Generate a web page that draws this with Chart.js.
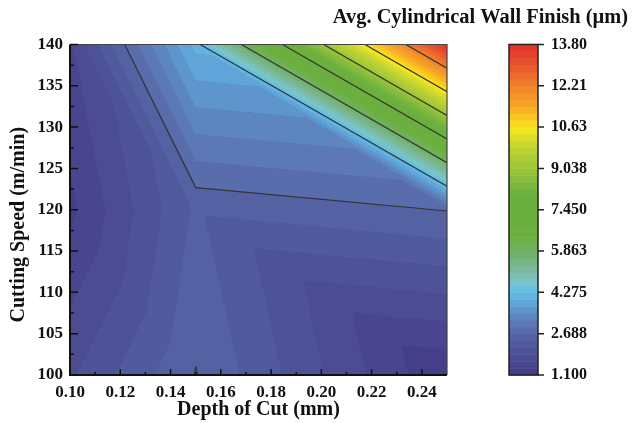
<!DOCTYPE html>
<html>
<head>
<meta charset="utf-8">
<script src="https://cdn.jsdelivr.net/npm/chart.js@4.4.1/dist/chart.umd.min.js"></script>
<style>
  html, body { margin: 0; padding: 0; background: #fff; width: 633px; height: 423px; overflow: hidden; }
  #wrap { position: absolute; left: 0; top: 0; width: 633px; height: 423px; }
</style>
</head>
<body>
<div id="wrap"><canvas id="chart"></canvas></div>
<script>
// measured nodes: depth of cut (mm) x cutting speed (m/min)
const depthLevels = [0.10, 0.15, 0.25];
const speedLevels = [100, 120, 140];
const finishAt100 = [1.85, 2.70, 1.12];
const finishAt120 = [1.30, 2.47, 2.70];
const finishAt140 = [1.60, 4.10, 13.80];

const contourLevels = [2.688, 4.275, 5.863, 7.450, 9.038, 10.63, 12.21];
const xTicks = [0.10, 0.12, 0.14, 0.16, 0.18, 0.20, 0.22, 0.24];
const yTicks = [100, 105, 110, 115, 120, 125, 130, 135, 140];
const barTicks = [1.1, 2.6875, 4.275, 5.8625, 7.45, 9.0375, 10.625, 12.2125, 13.8];
const barTickLabels = ["1.100", "2.688", "4.275", "5.863", "7.450", "9.038", "10.63", "12.21", "13.80"];

const grid = [finishAt100, finishAt120, finishAt140];
const zMin = barTicks[0];
const zMax = barTicks[barTicks.length - 1];
const nBands = 48;
const bandStep = (zMax - zMin) / nBands;

// colour ramp (0 = bottom, 1 = top)
const ramp = [
  [0.00, "#453f8a"], [0.03, "#4a4890"], [0.07, "#4f5599"], [0.11, "#5563a4"],
  [0.14, "#5b73b0"], [0.18, "#5e8cc6"], [0.21, "#5fa3d6"], [0.25, "#62bfe5"],
  [0.28, "#7cc3c8"], [0.32, "#7ab898"], [0.37, "#70b068"], [0.42, "#6bb03f"],
  [0.55, "#6bb03f"], [0.62, "#98c33a"], [0.67, "#b3cf35"], [0.71, "#cdd830"],
  [0.75, "#f8e81e"], [0.79, "#fbc51f"], [0.82, "#f7a626"], [0.88, "#f0852b"],
  [0.94, "#e85a2d"], [1.00, "#e3352b"]
];

function hexRgb(h) {
  return [parseInt(h.slice(1, 3), 16), parseInt(h.slice(3, 5), 16), parseInt(h.slice(5, 7), 16)];
}

function rampColor(t) {
  for (let i = 1; i < ramp.length; i++) {
    if (t <= ramp[i][0]) {
      const a = hexRgb(ramp[i - 1][1]), b = hexRgb(ramp[i][1]);
      const f = (t - ramp[i - 1][0]) / (ramp[i][0] - ramp[i - 1][0]);
      return a.map((c, k) => Math.round(c + (b[k] - c) * f));
    }
  }
  return hexRgb(ramp[ramp.length - 1][1]);
}

const bandRGB = [];
for (let k = 0; k < nBands; k++) bandRGB.push(rampColor(k / (nBands - 1)));

function cellIndex(levels, v) {
  for (let i = 0; i < levels.length - 2; i++) {
    if (v < levels[i + 1]) return i;
  }
  return levels.length - 2;
}

// linear interpolation on triangles (each cell split along its falling diagonal)
function finishAt(d, s) {
  const i = cellIndex(depthLevels, d), j = cellIndex(speedLevels, s);
  const u = (d - depthLevels[i]) / (depthLevels[i + 1] - depthLevels[i]);
  const v = (s - speedLevels[j]) / (speedLevels[j + 1] - speedLevels[j]);
  const f00 = grid[j][i], f10 = grid[j][i + 1], f01 = grid[j + 1][i], f11 = grid[j + 1][i + 1];
  if (u + v >= 1) return f11 + (1 - u) * (f01 - f11) + (1 - v) * (f10 - f11);
  return f00 + u * (f10 - f00) + v * (f01 - f00);
}

function triangles() {
  const tris = [];
  for (let j = 0; j < speedLevels.length - 1; j++) {
    for (let i = 0; i < depthLevels.length - 1; i++) {
      const p00 = [depthLevels[i], speedLevels[j], grid[j][i]];
      const p10 = [depthLevels[i + 1], speedLevels[j], grid[j][i + 1]];
      const p01 = [depthLevels[i], speedLevels[j + 1], grid[j + 1][i]];
      const p11 = [depthLevels[i + 1], speedLevels[j + 1], grid[j + 1][i + 1]];
      tris.push([p00, p10, p01], [p01, p11, p10]);
    }
  }
  return tris;
}

const textColor = "#111";
const serif = "'Liberation Serif', 'Times New Roman', serif";

const contourPlugin = {
  id: "contour",
  beforeDatasetsDraw(chart) {
    const { ctx, chartArea: a, scales: { x, y } } = chart;
    const left = Math.round(a.left), top = Math.round(a.top);
    const w = Math.round(a.right) - left, h = Math.round(a.bottom) - top;
    const img = ctx.createImageData(w, h);
    for (let r = 0; r < h; r++) {
      const s = y.getValueForPixel(top + r + 0.5);
      for (let c = 0; c < w; c++) {
        const d = x.getValueForPixel(left + c + 0.5);
        let k = Math.floor((finishAt(d, s) - zMin) / bandStep);
        k = Math.max(0, Math.min(nBands - 1, k));
        const col = bandRGB[k];
        const p = (r * w + c) * 4;
        img.data[p] = col[0]; img.data[p + 1] = col[1]; img.data[p + 2] = col[2]; img.data[p + 3] = 255;
      }
    }
    ctx.putImageData(img, left, top);

    // contour lines
    ctx.save();
    ctx.beginPath();
    ctx.rect(a.left, a.top, a.right - a.left, a.bottom - a.top);
    ctx.clip();
    ctx.strokeStyle = "#333";
    ctx.lineWidth = 1.2;
    const tris = triangles();
    contourLevels.forEach(L => {
      tris.forEach(t => {
        const pts = [];
        for (let e = 0; e < 3; e++) {
          const p = t[e], q = t[(e + 1) % 3];
          if ((p[2] - L) * (q[2] - L) < 0) {
            const f = (L - p[2]) / (q[2] - p[2]);
            pts.push([p[0] + (q[0] - p[0]) * f, p[1] + (q[1] - p[1]) * f]);
          }
        }
        if (pts.length === 2) {
          ctx.beginPath();
          ctx.moveTo(x.getPixelForValue(pts[0][0]), y.getPixelForValue(pts[0][1]));
          ctx.lineTo(x.getPixelForValue(pts[1][0]), y.getPixelForValue(pts[1][1]));
          ctx.stroke();
        }
      });
    });
    ctx.restore();
  },
  afterDraw(chart) {
    const { ctx, chartArea: a, scales: { x, y, y2 } } = chart;
    ctx.save();
    // frame
    ctx.strokeStyle = "#444";
    ctx.lineWidth = 1.2;
    ctx.beginPath();
    ctx.moveTo(a.left, a.top); ctx.lineTo(a.right, a.top); ctx.lineTo(a.right, a.bottom);
    ctx.stroke();
    ctx.strokeStyle = "#111";
    ctx.lineWidth = 2;
    ctx.beginPath();
    ctx.moveTo(a.left, a.top); ctx.lineTo(a.left, a.bottom); ctx.lineTo(a.right, a.bottom);
    ctx.stroke();

    // inward ticks
    ctx.lineWidth = 1.5;
    ctx.beginPath();
    xTicks.forEach(v => {
      const px = x.getPixelForValue(v);
      ctx.moveTo(px, a.bottom); ctx.lineTo(px, a.bottom - 6);
      const pm = x.getPixelForValue(v + (xTicks[1] - xTicks[0]) / 2);
      if (pm < a.right - 1) { ctx.moveTo(pm, a.bottom); ctx.lineTo(pm, a.bottom - 3); }
    });
    yTicks.forEach((v, i) => {
      const py = y.getPixelForValue(v);
      ctx.moveTo(a.left, py); ctx.lineTo(a.left + 8, py);
      if (i < yTicks.length - 1) {
        const pm = y.getPixelForValue((v + yTicks[i + 1]) / 2);
        ctx.moveTo(a.left, pm); ctx.lineTo(a.left + 4, pm);
      }
    });
    ctx.stroke();

    // colour bar
    const bx = a.right + 62, bw = 29;
    for (let k = 0; k < nBands; k++) {
      const yt = y2.getPixelForValue(zMin + (k + 1) * bandStep);
      const yb = y2.getPixelForValue(zMin + k * bandStep);
      ctx.fillStyle = "rgb(" + bandRGB[k].join(",") + ")";
      ctx.fillRect(bx, yt, bw, yb - yt + 0.5);
    }
    ctx.strokeStyle = "#222";
    ctx.lineWidth = 1.5;
    ctx.strokeRect(bx, y2.getPixelForValue(zMax), bw, y2.getPixelForValue(zMin) - y2.getPixelForValue(zMax));
    ctx.beginPath();
    barTicks.forEach(v => {
      const py = y2.getPixelForValue(v);
      ctx.moveTo(bx + bw, py); ctx.lineTo(bx + bw + 6, py);
    });
    ctx.stroke();
    ctx.restore();
  }
};

const tickFont = { family: serif, size: 17, weight: "bold" };
const barFont = { family: serif, size: 16, weight: "bold" };
const titleFont = { family: serif, size: 20, weight: "bold" };

// fixed box sizes; drop the label overhang padding Chart.js adds around the area
function fixBox(size) {
  return s => {
    if (s.isHorizontal()) s.height = size; else s.width = size;
    s.paddingTop = 0; s.paddingBottom = 0; s.paddingLeft = 0; s.paddingRight = 0;
  };
}

new Chart(document.getElementById("chart").getContext("2d"), {
  type: "scatter",
  data: { datasets: [] },
  options: {
    responsive: true,
    maintainAspectRatio: false,
    animation: false,
    layout: { padding: { left: 0, right: 5, top: 0, bottom: 0 } },
    plugins: {
      legend: { display: false },
      tooltip: { enabled: false },
      title: {
        display: true,
        text: "Avg. Cylindrical Wall Finish (µm)",
        align: "end",
        color: textColor,
        font: { family: serif, size: 20.4, weight: "bold" },
        padding: { top: 5, bottom: 15 }
      }
    },
    scales: {
      x: {
        type: "linear",
        min: 0.10,
        max: 0.25,
        afterBuildTicks: s => { s.ticks = xTicks.map(v => ({ value: v })); },
        afterFit: fixBox(48),
        grid: { display: false, drawTicks: false },
        border: { display: false },
        ticks: {
          color: textColor, font: tickFont, padding: 7, autoSkip: false, maxRotation: 0,
          callback: v => v.toFixed(2)
        },
        title: { display: true, text: "Depth of Cut (mm)", color: textColor, font: titleFont, padding: { top: 0, bottom: 1 } }
      },
      y: {
        type: "linear",
        min: 100,
        max: 140,
        afterBuildTicks: s => { s.ticks = yTicks.map(v => ({ value: v })); },
        afterFit: fixBox(70),
        grid: { display: false, drawTicks: false },
        border: { display: false },
        ticks: { color: textColor, font: tickFont, padding: 7, autoSkip: false },
        title: {
          display: true, text: "Cutting Speed (m/min)\u2002\u2002\u2002", color: textColor, font: titleFont,
          padding: { top: 7, bottom: 0 }
        }
      },
      y2: {
        type: "linear",
        position: "right",
        min: zMin,
        max: zMax,
        afterBuildTicks: s => { s.ticks = barTicks.map(v => ({ value: v })); },
        afterFit: fixBox(181),
        grid: { display: false, drawTicks: false },
        border: { display: false },
        ticks: {
          color: textColor, font: barFont, padding: 104, autoSkip: false,
          callback: (v, i) => barTickLabels[i]
        }
      }
    }
  },
  plugins: [contourPlugin]
});
</script>
</body>
</html>
